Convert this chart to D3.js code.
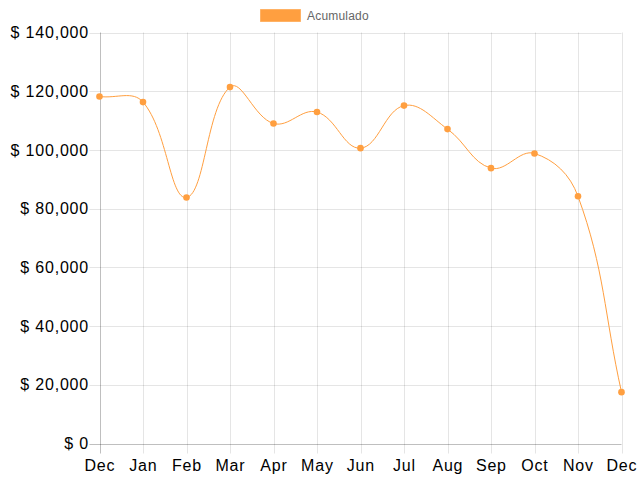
<!DOCTYPE html>
<html><head><meta charset="utf-8">
<script src="https://cdn.jsdelivr.net/npm/d3@7"></script>
<style>html,body{margin:0;padding:0;background:#fff}svg{display:block}</style>
</head><body>
<svg id="c" width="640" height="480"></svg>
<script>
const months = ["Dec","Jan","Feb","Mar","Apr","May","Jun","Jul","Aug","Sep","Oct","Nov","Dec"];
const acumulado = [118200,116300,83800,121400,109000,112900,100600,115100,107100,93800,98800,84200,17500];
const yTicks = [0,20000,40000,60000,80000,100000,120000,140000];
const seriesName = "Acumulado";
const color = "#ff9f40";

const svg = d3.select("#c");
const L = 99.5, R = 621.5, T = 32.5, B = 443.5;
const x = d3.scaleLinear().domain([0, months.length-1]).range([L, R]);
const y = d3.scaleLinear().domain([0, 140000]).range([B, T]);
const fmt = v => "$ " + d3.format(",")(v);
const FONT = "'Liberation Sans', Arial, sans-serif";

// grid
const g = svg.append("g");
g.selectAll(".hg").data(yTicks).join("line")
  .attr("x1", L-10).attr("x2", R).attr("y1", d=>Math.round(y(d))+0.5).attr("y2", d=>Math.round(y(d))+0.5)
  .attr("stroke", d=> d===0 ? "rgba(0,0,0,0.25)" : "rgba(0,0,0,0.1)");
g.selectAll(".vg").data(months.map((m,i)=>i)).join("line")
  .attr("x1", d=>Math.round(x(d))+0.5).attr("x2", d=>Math.round(x(d))+0.5).attr("y1", T).attr("y2", B+10)
  .attr("stroke", d=> d===0 ? "rgba(0,0,0,0.25)" : "rgba(0,0,0,0.1)");

// y labels
svg.append("g").selectAll("text").data(yTicks).join("text")
  .attr("x", L-10.5).attr("y", d=>y(d)).attr("dy","0.35em").attr("text-anchor","end")
  .attr("font-family",FONT).attr("font-size",16).attr("letter-spacing","0.8px").attr("fill","#000")
  .text(fmt);
// x labels
svg.append("g").selectAll("text").data(months).join("text")
  .attr("x", (d,i)=>x(i)+0.4).attr("y", 465).attr("dy","0.35em").attr("text-anchor","middle")
  .attr("font-family",FONT).attr("font-size",16).attr("letter-spacing","0.8px").attr("fill","#000")
  .text(d=>d);

// Chart.js-style spline
const pts = acumulado.map((v,i)=>[x(i), y(v)]);
const t = 0.4;
const cps = pts.map((p,i)=>{
  const prev = pts[i-1] || p, next = pts[i+1] || p;
  const d01 = Math.hypot(p[0]-prev[0], p[1]-prev[1]);
  const d12 = Math.hypot(next[0]-p[0], next[1]-p[1]);
  let s01 = d01/(d01+d12), s12 = d12/(d01+d12);
  if (!isFinite(s01)) s01 = 0; if (!isFinite(s12)) s12 = 0;
  const fa = t*s01, fb = t*s12;
  const c1 = [p[0]-fa*(next[0]-prev[0]), p[1]-fa*(next[1]-prev[1])];
  const c2 = [p[0]+fb*(next[0]-prev[0]), p[1]+fb*(next[1]-prev[1])];
  const cap = c => [Math.max(L, Math.min(R, c[0])), Math.max(T, Math.min(B, c[1]))];
  return {prev: cap(c1), next: cap(c2)};
});
const path = d3.path();
pts.forEach((p,i)=>{
  if (i===0) path.moveTo(p[0],p[1]);
  else path.bezierCurveTo(cps[i-1].next[0], cps[i-1].next[1], cps[i].prev[0], cps[i].prev[1], p[0], p[1]);
});
svg.append("path").attr("d", path.toString()).attr("fill","none").attr("stroke",color).attr("stroke-width",1);

svg.append("g").selectAll("circle").data(acumulado).join("circle")
  .attr("cx",(d,i)=>x(i)).attr("cy",d=>y(d)).attr("r",3.3).attr("fill",color);

// legend
const lg = svg.append("g");
lg.append("rect").attr("x",260.5).attr("y",9.5).attr("width",40).attr("height",12)
  .attr("fill",color).attr("stroke","rgba(255,159,64,0.6)");
lg.append("text").attr("x",307).attr("y",16).attr("dy","0.35em")
  .attr("font-family",FONT).attr("font-size",12).attr("letter-spacing","0.2px").attr("fill","#666")
  .text(seriesName);
</script>
</body></html>
